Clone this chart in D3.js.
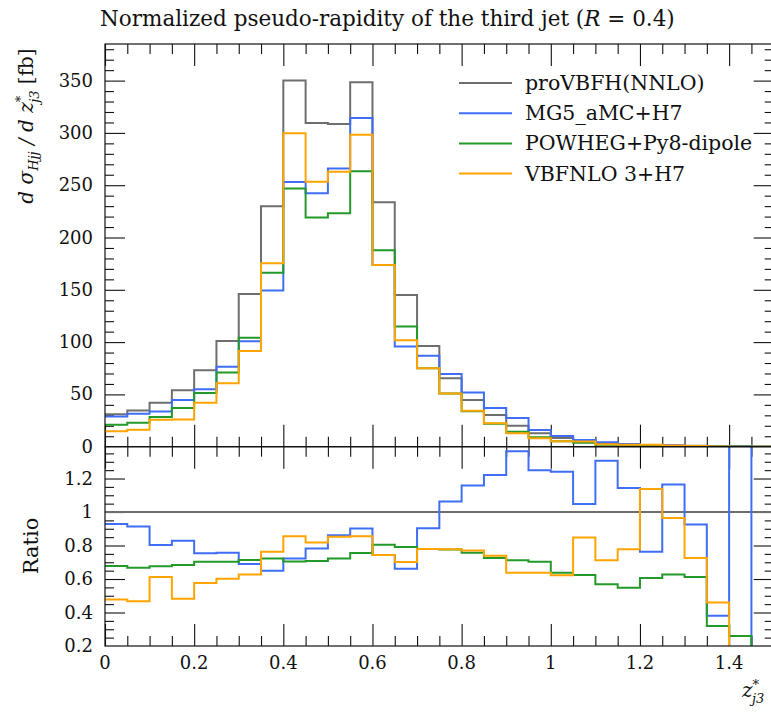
<!DOCTYPE html>
<html>
<head>
<meta charset="utf-8">
<script src="https://cdn.jsdelivr.net/npm/d3@7"></script>
<style>
  body { margin: 0; background: #fff; }
  svg text { font-family: "DejaVu Serif", "Liberation Serif", serif; fill: #111; }
</style>
</head>
<body>
<div id="chart"></div>
<script>
// bins of z*_j3, width 0.05 from 0 to 1.5
var binEdges = d3.range(31).map(function(i) { return +(i * 0.05).toFixed(2); });

var seriesNames = ["proVBFH(NNLO)", "MG5_aMC+H7", "POWHEG+Py8-dipole", "VBFNLO 3+H7"];
var seriesColors = ["#6e6e6e", "#3f6ef5", "#23992a", "#ffa400"];

// d sigma / d z*_j3 [fb]
var proVBFH = [31, 34.5, 42, 54, 73, 101, 146, 230, 350, 309.5, 308.6, 348.4, 233.7, 145.1, 96.3,
               65.4, 44.7, 30.3, 20.1, 12.8, 8.3, 6, 3.2, 2.3, 1.6, 1.1, 0.8, 0.5, 0.3, 0.2];
var mg5Herwig = [28.8, 31.5, 33.7, 44.7, 55.0, 76.4, 100.7, 149.3, 253.1, 242.3, 266.0, 314.3, 173.6, 95.9, 86.9,
                 69.5, 51.8, 37.0, 27.4, 16.0, 10.3, 6.29, 4.18, 2.63, 1.22, 1.28, 0.74, 0.19, 0.75, 0];
var powhegPy8 = [21.0, 23.0, 28.4, 36.9, 51.3, 71.0, 104.1, 166.3, 246.8, 219.1, 223.1, 263.4, 187.9, 114.9, 75.1,
                 50.8, 33.8, 22.0, 14.3, 9.0, 5.29, 3.74, 1.82, 1.26, 0.97, 0.69, 0.49, 0.16, 0.078, 0];
var vbfnloHerwig = [14.8, 16.1, 25.7, 26.0, 42.1, 60.7, 91.5, 175.3, 299.6, 253.2, 262.9, 298.2, 173.6, 101.7, 75.1,
                    50.9, 34.4, 22.4, 12.8, 8.15, 5.17, 5.09, 2.28, 1.79, 1.82, 1.06, 0.58, 0.23, 0, 0];

var allSeries = [proVBFH, mg5Herwig, powhegPy8, vbfnloHerwig];

var xTicks = [0, 0.2, 0.4, 0.6, 0.8, 1, 1.2, 1.4];
var yTicks = [0, 50, 100, 150, 200, 250, 300, 350];
var ratioTicks = [0.2, 0.4, 0.6, 0.8, 1, 1.2];

var W = 771, H = 713;
var plotLeft = 105, plotTop = 44, plotMid = 446.7, plotBottom = 646;

var svg = d3.select("#chart").append("svg")
    .attr("width", W)
    .attr("height", H);

var x = d3.scaleLinear().domain([0, 1.5]).range([plotLeft, plotLeft + 1.5 * 445.8]);
var plotRight = x(1.5);
var y = d3.scaleLinear().domain([0, 385]).range([plotMid, plotTop]);
var yr = d3.scaleLinear().domain([0.2, 1.39]).range([plotBottom, plotMid]);

var defs = svg.append("defs");
defs.append("clipPath").attr("id", "clipTop").append("rect")
    .attr("x", plotLeft).attr("y", plotTop)
    .attr("width", plotRight - plotLeft).attr("height", plotMid - plotTop);
defs.append("clipPath").attr("id", "clipRatio").append("rect")
    .attr("x", plotLeft).attr("y", plotMid)
    .attr("width", plotRight - plotLeft).attr("height", plotBottom - plotMid);

// step line through bin values
function stepPoints(vals) {
    var pts = vals.map(function(v, i) { return [binEdges[i], v]; });
    pts.push([binEdges[vals.length], vals[vals.length - 1]]);
    return pts;
}

var lineTop = d3.line()
    .x(function(d) { return x(d[0]); })
    .y(function(d) { return y(d[1]); })
    .curve(d3.curveStepAfter);

var lineRatio = d3.line()
    .x(function(d) { return x(d[0]); })
    .y(function(d) { return yr(d[1]); })
    .curve(d3.curveStepAfter);

// ---- ticks (inside the frame, both sides) ----
function drawTicks(g, scale, values, size, orient, pos) {
    var axis;
    if (orient === "left") axis = d3.axisLeft(scale);
    if (orient === "right") axis = d3.axisRight(scale);
    if (orient === "top") axis = d3.axisTop(scale);
    if (orient === "bottom") axis = d3.axisBottom(scale);
    var a = g.append("g")
        .attr("transform", pos)
        .call(axis.tickValues(values).tickSize(-size).tickFormat(""));
    a.select(".domain").remove();
    a.selectAll("line").attr("stroke", "#111").attr("stroke-width", 1.1);
    return a;
}

var ticks = svg.append("g");
var xMinor = binEdges.filter(function(v) { return xTicks.indexOf(v) < 0; });
var yMinor = d3.range(0, 386, 10).filter(function(v) { return v % 50 !== 0; });
var rMinor = d3.range(5, 28).map(function(i) { return +(i * 0.05).toFixed(2); })
    .filter(function(v) { return ratioTicks.indexOf(v) < 0; });

[[plotTop, "top"], [plotMid, "bottom"], [plotMid, "top"], [plotBottom, "bottom"]].forEach(function(p) {
    var pos = "translate(0," + p[0] + ")";
    drawTicks(ticks, x, xTicks, 22, p[1], pos);
    drawTicks(ticks, x, xMinor, 10, p[1], pos);
});
drawTicks(ticks, y, yTicks.slice(1), 20, "left", "translate(" + plotLeft + ",0)");
drawTicks(ticks, y, yMinor, 9, "left", "translate(" + plotLeft + ",0)");
drawTicks(ticks, y, yTicks.slice(1), 20, "right", "translate(" + plotRight + ",0)");
drawTicks(ticks, y, yMinor, 9, "right", "translate(" + plotRight + ",0)");
drawTicks(ticks, yr, ratioTicks.slice(1), 20, "left", "translate(" + plotLeft + ",0)");
drawTicks(ticks, yr, rMinor, 9, "left", "translate(" + plotLeft + ",0)");
drawTicks(ticks, yr, ratioTicks.slice(1), 20, "right", "translate(" + plotRight + ",0)");
drawTicks(ticks, yr, rMinor, 9, "right", "translate(" + plotRight + ",0)");

// ---- tick labels ----
svg.append("g").selectAll("text").data(yTicks).enter().append("text")
    .attr("x", plotLeft - 12)
    .attr("y", function(d) { return y(d) + 6; })
    .attr("text-anchor", "end")
    .style("font-size", "18px")
    .text(function(d) { return d; });

svg.append("g").selectAll("text").data(ratioTicks).enter().append("text")
    .attr("x", plotLeft - 12)
    .attr("y", function(d) { return yr(d) + 6; })
    .attr("text-anchor", "end")
    .style("font-size", "18px")
    .text(function(d) { return d; });

svg.append("g").selectAll("text").data(xTicks).enter().append("text")
    .attr("x", function(d) { return x(d); })
    .attr("y", plotBottom + 23)
    .attr("text-anchor", "middle")
    .style("font-size", "18px")
    .text(function(d) { return d; });

// ---- histograms ----
var topG = svg.append("g").attr("clip-path", "url(#clipTop)");
allSeries.forEach(function(vals, k) {
    topG.append("path")
        .attr("d", lineTop(stepPoints(vals)))
        .attr("fill", "none")
        .attr("stroke", seriesColors[k])
        .attr("stroke-width", 2);
});

var ratioG = svg.append("g").attr("clip-path", "url(#clipRatio)");
ratioG.append("line")
    .attr("x1", plotLeft).attr("x2", plotRight)
    .attr("y1", yr(1)).attr("y2", yr(1))
    .attr("stroke", seriesColors[0])
    .attr("stroke-width", 2);
allSeries.slice(1).forEach(function(vals, k) {
    var ratio = vals.map(function(v, i) { return proVBFH[i] > 0 ? v / proVBFH[i] : 0; });
    ratioG.append("path")
        .attr("d", lineRatio(stepPoints(ratio)))
        .attr("fill", "none")
        .attr("stroke", seriesColors[k + 1])
        .attr("stroke-width", 2);
});

// ---- frames ----
[[plotTop, plotMid], [plotMid, plotBottom]].forEach(function(r) {
    svg.append("rect")
        .attr("x", plotLeft).attr("y", r[0])
        .attr("width", plotRight - plotLeft).attr("height", r[1] - r[0])
        .attr("fill", "none")
        .attr("stroke", "#111")
        .attr("stroke-width", 1.2);
});

// ---- legend ----
var legend = svg.append("g");
seriesNames.forEach(function(name, k) {
    var ly = 83 + k * 30.2;
    legend.append("line")
        .attr("x1", 459).attr("x2", 512)
        .attr("y1", ly).attr("y2", ly)
        .attr("stroke", seriesColors[k])
        .attr("stroke-width", 2);
    legend.append("text")
        .attr("x", 525).attr("y", ly + 7)
        .style("font-size", "20.5px")
        .text(name);
});

// ---- titles ----
var title = svg.append("text")
    .attr("x", 100).attr("y", 26)
    .style("font-size", "21.5px");
title.append("tspan").text("Normalized pseudo-rapidity of the third jet (");
title.append("tspan").style("font-style", "italic").text("R");
title.append("tspan").text(" = 0.4)");

var ylab = svg.append("text")
    .attr("transform", "translate(33," + 126 + ") rotate(-90)")
    .attr("text-anchor", "middle")
    .style("font-size", "20px");
ylab.append("tspan").style("font-style", "italic").text("d σ");
ylab.append("tspan").style("font-style", "italic").style("font-size", "13px").attr("dy", 5).text("Hjj");
ylab.append("tspan").style("font-style", "italic").attr("dy", -5).text(" / d z");
ylab.append("tspan").style("font-size", "13px").attr("dy", -8).text("*");
ylab.append("tspan").style("font-style", "italic").style("font-size", "13px").attr("dx", -7).attr("dy", 14).text("j3");
ylab.append("tspan").attr("dy", -6).text(" [fb]");

svg.append("text")
    .attr("transform", "translate(38," + 546 + ") rotate(-90)")
    .attr("text-anchor", "middle")
    .style("font-size", "21px")
    .text("Ratio");

var xlab = svg.append("text")
    .attr("x", 742).attr("y", 697)
    .style("font-size", "20px");
xlab.append("tspan").style("font-style", "italic").text("z");
xlab.append("tspan").style("font-size", "13px").attr("dy", -8).text("*");
xlab.append("tspan").style("font-style", "italic").style("font-size", "13px").attr("dx", -7).attr("dy", 14).text("j3");
</script>
</body>
</html>
